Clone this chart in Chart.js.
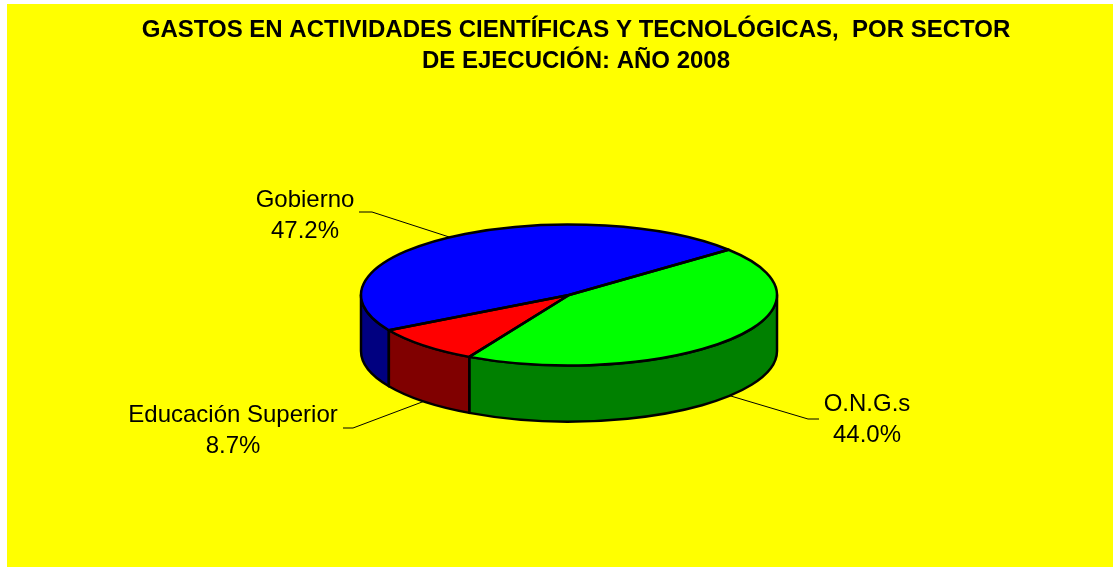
<!DOCTYPE html>
<html>
<head>
<meta charset="utf-8">
<title>Gastos en actividades científicas y tecnológicas</title>
<script src="https://cdn.jsdelivr.net/npm/chart.js@4"></script>
<style>
  html, body { margin: 0; padding: 0; background: #fff; overflow: hidden; }
  #wrap { position: absolute; left: 7px; top: 4px; width: 1106px; height: 563px; }
</style>
</head>
<body>
<div id="wrap"><canvas id="chart"></canvas></div>
<script>
const sectors = ['Gobierno', 'O.N.G.s', 'Educación Superior'];
const shares = [47.2, 44.0, 8.7];
const shareLabels = ['47.2%', '44.0%', '8.7%'];
const titleLines = ['GASTOS EN ACTIVIDADES CIENTÍFICAS Y TECNOLÓGICAS,  POR SECTOR', 'DE EJECUCIÓN: AÑO 2008'];

const topColors = ['#0000ff', '#00ff00', '#ff0000'];
const wallColors = ['#000080', '#008000', '#800000'];

// canvas sits at 7,4 in the page, everything below is canvas px
const pie = { cx: 562, cy: 291, rx: 208, ry: 70.5, depth: 56 };
// elbow and end of each leader, then where the two label lines are centred
const leaders = [
  { elbow: [365, 208], end: [352, 208], text: [298, 196] },
  { elbow: [801, 415], end: [812, 415], text: [860, 400] },
  { elbow: [346, 424], end: [336, 424], text: [226, 411] },
];

const pt = (a, down = 0) => [
  pie.cx + pie.rx * Math.cos(a),
  pie.cy + pie.ry * Math.sin(a) + down,
];

// The side of one slice: only the part of its rim facing the viewer
const drawWall = (ctx, el, color) => {
  const tau = Math.PI * 2;
  let from = el.startAngle % tau;
  if (from < 0) from += tau;
  const to = from + (el.endAngle - el.startAngle);
  [[0, Math.PI], [tau, tau + Math.PI]].forEach(([lo, hi]) => {
    const a = Math.max(from, lo);
    const b = Math.min(to, hi);
    if (b <= a) return;
    ctx.beginPath();
    ctx.ellipse(pie.cx, pie.cy, pie.rx, pie.ry, 0, a, b);
    ctx.lineTo(...pt(b, pie.depth));
    ctx.ellipse(pie.cx, pie.cy + pie.depth, pie.rx, pie.ry, 0, b, a, true);
    ctx.closePath();
    ctx.fillStyle = color;
    ctx.fill();
    ctx.stroke();
  });
};

const tiltedPie = {
  id: 'tiltedPie',
  beforeDatasetsDraw(chart) {
    const { ctx } = chart;
    const els = chart.getDatasetMeta(0).data;
    ctx.save();
    ctx.lineWidth = 2.5;
    ctx.strokeStyle = '#000';
    ctx.lineJoin = 'round';

    els.forEach((el, i) => drawWall(ctx, el, wallColors[i]));

    els.forEach((el) => {
      ctx.save();
      ctx.translate(pie.cx, pie.cy);
      ctx.scale(pie.rx / el.outerRadius, pie.ry / el.outerRadius);
      ctx.translate(-el.x, -el.y);
      el.draw(ctx);
      ctx.restore();
    });

    els.forEach((el) => {
      ctx.beginPath();
      ctx.moveTo(pie.cx, pie.cy);
      ctx.ellipse(pie.cx, pie.cy, pie.rx, pie.ry, 0, el.startAngle, el.endAngle);
      ctx.closePath();
      ctx.stroke();
    });

    // leaders start on the rim at each slice's middle angle
    ctx.lineWidth = 1;
    ctx.font = '24px "Liberation Sans", Arial, sans-serif';
    ctx.textAlign = 'center';
    ctx.textBaseline = 'middle';
    ctx.fillStyle = '#000';
    els.forEach((el, i) => {
      const mid = (el.startAngle + el.endAngle) / 2;
      const [ax, ay] = pt(mid, Math.sin(mid) > 0 ? pie.depth : 0);
      const l = leaders[i];
      ctx.beginPath();
      ctx.moveTo(ax, ay);
      ctx.lineTo(...l.elbow);
      ctx.lineTo(...l.end);
      ctx.stroke();
      ctx.fillText(sectors[i], l.text[0], l.text[1]);
      ctx.fillText(shareLabels[i], l.text[0], l.text[1] + 31);
    });
    ctx.restore();
    return false;
  },
};

new Chart(document.getElementById('chart'), {
  type: 'pie',
  data: {
    labels: sectors,
    datasets: [{ data: shares, backgroundColor: topColors, borderWidth: 0 }],
  },
  options: {
    responsive: true,
    maintainAspectRatio: false,
    animation: false,
    rotation: 240,
    layout: { padding: { left: 32 } },
    plugins: {
      legend: { display: false },
      tooltip: { enabled: false },
      title: {
        display: true,
        text: titleLines,
        color: '#000',
        align: 'center',
        font: { family: '"Liberation Sans", Arial, sans-serif', size: 24, weight: 'bold', lineHeight: 1.3 },
        padding: { top: 11, bottom: 0 },
      },
    },
  },
  plugins: [tiltedPie],
});
document.getElementById('chart').style.background = '#ffff00';
</script>
</body>
</html>
